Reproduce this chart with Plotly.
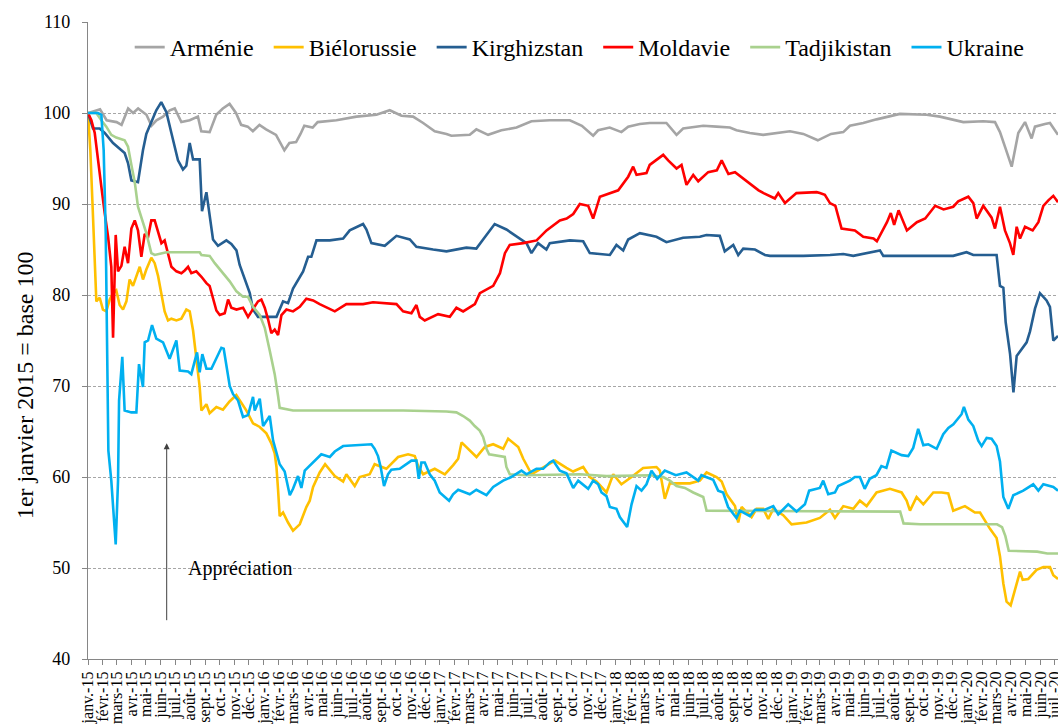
import pandas as pd
import plotly.graph_objects as go

# (months since 1 Jan 2015, index value, base 100 = 1 Jan 2015)
armenie = [(0,100),(0.82,100.4),(1.27,99.2),(1.95,99.0),(2.29,98.7),(2.74,100.5),(3.08,100),(3.42,100.5),(3.99,99.8),(4.33,98.6),(4.67,99.2),(5.12,99.6),(5.58,100.3),(5.92,100.5),(6.37,99),(6.94,99.2),(7.5,99.6),(7.73,98.0),(8.3,97.9),(8.75,99.8),(9.2,100.5),(9.66,101),(10.1,100),(10.45,98.7),(10.9,98.5),(11.25,98),(11.7,98.7),(12.15,98.2),(12.83,97.6),(13.4,95.9),(13.74,96.7),(14.2,96.8),(14.5,97.7),(14.76,98.6),(15.33,98.4),(15.67,99),(16.95,99.2),(18.32,99.6),(19.68,99.8),(20.59,100.3),(21.39,99.7),(22.18,99.6),(22.87,98.9),(23.66,98.0),(24.46,97.7),(24.8,97.5),(26.05,97.6),(26.5,98.2),(27.3,97.6),(28.21,98.1),(29.24,98.4),(30.26,99.1),(31.51,99.2),(32.88,99.2),(33.7,98.6),(34.47,97.5),(34.81,98.1),(35.6,98.4),(36.4,97.9),(36.86,98.5),(37.65,98.8),(38.33,98.9),(39.47,98.9),(40.16,97.6),(40.61,98.3),(41.98,98.6),(42.89,98.5),(43.8,98.4),(44.25,98.1),(45.16,97.8),(46.07,97.6),(46.98,97.8),(47.9,98.0),(48.81,97.7),(49.8,97.0),(50.7,97.7),(51.54,97.9),(51.99,98.6),(52.9,98.9),(53.81,99.3),(55.4,99.9),(57.22,99.8),(58.13,99.6),(59.73,99.0),(61.09,99.1),(61.89,99.0),(62.23,97.9),(62.57,96.3),(63.03,94.1),(63.48,97.8),(63.94,99.0),(64.39,97.2),(64.62,98.5),(65.3,98.8),(65.64,98.9),(66.19,97.6)]

bielorussie = [(0,100),(0.16,95.9),(0.3,90.3),(0.46,83.0),(0.57,79.3),(0.8,79.7),(1.02,78.4),(1.25,78.2),(1.48,79.5),(1.71,80.2),(1.93,80.5),(2.16,78.9),(2.39,78.4),(2.62,79.3),(2.84,81.7),(3.07,81.0),(3.3,82.1),(3.53,83.1),(3.75,81.7),(3.98,82.8),(4.32,84.1),(4.55,83.5),(4.78,82.1),(5.01,80.2),(5.23,78.2),(5.46,77.2),(5.69,77.4),(6.03,77.2),(6.37,77.4),(6.71,78.4),(6.94,78.2),(7.17,76.1),(7.39,73.2),(7.62,69.9),(7.74,67.3),(8.08,68.0),(8.3,67.0),(8.76,67.7),(9.21,67.4),(9.66,68.3),(10.12,69.0),(10.35,68.4),(10.81,67.3),(11.26,65.9),(11.72,65.5),(12.17,64.8),(12.51,63.7),(12.74,62.6),(12.86,61.1),(12.97,58.6),(13.08,55.7),(13.31,56.1),(13.65,55.0),(13.99,54.1),(14.45,54.8),(14.9,56.7),(15.13,57.4),(15.36,58.9),(15.81,60.5),(16.18,61.4),(16.84,60.1),(17.41,59.5),(17.63,60.3),(18.2,59.0),(18.54,60.0),(19.22,60.3),(19.56,61.4),(20.36,60.9),(21.16,62.2),(21.84,62.5),(22.3,62.3),(22.53,61.2),(22.87,60.3),(23.66,60.9),(24.35,60.3),(24.92,61.3),(25.26,62.0),(25.49,63.8),(26.17,62.7),(26.51,62.2),(27.08,63.3),(27.65,63.6),(28.33,63.1),(28.67,64.2),(29.36,63.3),(29.7,62.0),(30.27,60.3),(31.06,61.0),(31.86,61.8),(32.65,61.0),(33.1,60.6),(33.79,61.1),(34.24,60.0),(34.7,59.5),(35.38,58.3),(35.84,60.3),(36.4,59.2),(37.09,60.0),(37.88,61.0),(38.79,61.1),(39.02,60.7),(39.36,57.6),(39.7,59.3),(40.39,59.3),(41.07,59.3),(41.75,59.6),(42.21,60.5),(42.89,60.0),(43.24,59.5),(43.58,58.1),(44.15,56.8),(44.37,55.0),(44.6,56.7),(45.28,55.6),(45.62,56.5),(46.08,56.5),(46.42,55.4),(46.76,56.5),(47.44,55.8),(48.01,54.8),(49.03,55.0),(49.94,55.5),(50.63,56.4),(50.97,55.5),(51.54,56.8),(52.22,56.5),(52.67,57.4),(53.13,56.8),(53.81,58.3),(54.72,58.7),(55.52,58.3),(55.86,57.4),(56.09,56.3),(56.54,57.8),(57.0,57.0),(57.68,58.3),(58.25,58.3),(58.7,58.2),(59.04,56.3),(59.84,56.8),(60.52,56.1),(60.87,56.1),(61.21,55.2),(61.55,54.3),(62.0,53.3),(62.23,51.3),(62.46,48.3),(62.68,46.3),(62.96,45.9),(63.37,48.3),(63.6,49.6),(63.78,48.7),(64.16,48.8),(64.73,49.8),(65.19,50.1),(65.64,50.1),(65.87,49.2),(66.19,48.8)]

kirghizstan = [(0,100),(0.34,98.3),(0.8,98.3),(1.14,97.8),(1.71,96.7),(2.5,95.6),(2.73,94.5),(2.96,92.6),(3.41,92.4),(3.75,95.9),(3.98,97.7),(4.32,99.1),(4.66,100.3),(5.0,101.2),(5.35,100.1),(5.69,97.8),(6.14,94.8),(6.48,93.8),(6.71,94.2),(6.94,96.7),(7.17,94.9),(7.62,94.9),(7.78,89.2),(8.08,91.3),(8.3,89.0),(8.53,86.1),(8.87,85.4),(9.44,86.0),(9.78,85.6),(10.13,84.9),(10.35,83.3),(10.69,81.8),(11.04,80.2),(11.26,78.4),(11.6,77.6),(12.86,77.6),(13.31,79.3),(13.65,79.1),(13.99,80.7),(14.68,82.6),(15.02,84.2),(15.24,84.2),(15.59,86.0),(16.5,86.0),(17.41,86.2),(17.86,87.1),(18.77,87.8),(19.0,87.2),(19.34,85.7),(20.25,85.4),(21.05,86.5),(21.96,86.1),(22.41,85.3),(23.55,85.0),(24.46,84.8),(25.82,85.2),(26.5,85.1),(26.96,86.1),(27.75,87.8),(28.55,87.2),(29.24,86.4),(29.92,85.7),(30.26,84.6),(30.71,85.7),(31.28,85.0),(31.51,85.7),(32.88,86.0),(33.79,85.9),(34.24,84.6),(35.61,84.4),(36.06,85.5),(36.52,84.9),(36.86,86.1),(37.66,86.8),(38.79,86.4),(39.47,85.8),(40.61,86.3),(41.75,86.4),(42.2,86.6),(43.11,86.5),(43.45,84.8),(44.03,85.5),(44.37,84.4),(44.71,85.1),(45.51,85.0),(46.19,84.4),(46.54,84.3),(48.81,84.3),(50.63,84.4),(51.54,84.5),(52.22,84.3),(54.04,84.9),(54.27,84.3),(56.77,84.3),(59.04,84.3),(59.95,84.7),(60.41,84.4),(62.0,84.4),(62.23,81.0),(62.46,80.8),(62.62,77.0),(62.92,73.5),(63.15,69.3),(63.37,73.3),(63.6,73.8),(64.05,74.8),(64.28,76.0),(64.62,78.5),(64.96,80.2),(65.41,79.4),(65.64,78.7),(65.87,75.0),(66.19,75.5)]

moldavie = [(0,100),(0.23,99.2),(0.46,97.8),(0.68,95.2),(0.91,91.9),(1.14,89.0),(1.37,86.4),(1.59,83.1),(1.71,75.3),(1.89,86.6),(2.05,82.6),(2.28,83.2),(2.5,85.3),(2.73,83.5),(2.96,87.3),(3.19,88.2),(3.41,87.1),(3.64,84.2),(3.87,86.7),(4.1,86.4),(4.32,88.2),(4.55,88.2),(4.78,86.8),(5.01,85.7),(5.23,86.0),(5.46,84.6),(5.69,83.1),(6.03,82.6),(6.37,82.4),(6.6,82.7),(6.83,83.1),(7.05,82.4),(7.39,82.6),(7.74,82.0),(8.08,81.3),(8.3,81.0),(8.53,79.5),(8.76,78.3),(8.99,77.8),(9.33,78.0),(9.56,79.5),(9.78,78.6),(10.13,78.4),(10.58,78.6),(10.92,77.6),(11.26,78.4),(11.6,79.3),(11.83,79.5),(12.06,78.6),(12.29,77.3),(12.51,75.8),(12.74,76.2),(12.97,75.6),(13.2,77.8),(13.54,78.4),(13.99,78.2),(14.45,78.7),(14.9,79.6),(15.36,79.4),(15.81,79.0),(16.84,78.2),(17.63,79.0),(18.77,79.0),(19.45,79.2),(21.05,79.0),(21.5,78.2),(22.07,78.0),(22.41,78.9),(22.64,77.6),(22.98,77.2),(23.89,77.9),(24.69,77.6),(25.14,78.6),(25.6,78.2),(26.4,79.0),(26.74,80.2),(27.65,81.0),(28.11,82.4),(28.45,84.6),(28.78,85.5),(29.7,85.7),(30.61,86.0),(31.29,87.1),(32.2,88.2),(32.66,88.4),(33.11,88.9),(33.56,90.0),(34.13,89.8),(34.47,88.4),(34.93,90.8),(35.61,91.2),(36.18,91.5),(36.86,93.0),(37.2,94.1),(37.43,93.2),(38.11,93.4),(38.33,94.3),(39.02,95.2),(39.25,95.4),(39.59,94.8),(40.16,93.9),(40.5,94.3),(40.84,92.1),(41.3,93.2),(41.64,92.5),(42.32,93.5),(42.91,93.7),(43.24,94.8),(43.7,93.3),(44.15,93.5),(44.95,92.5),(45.76,91.5),(46.1,91.2),(46.87,90.6),(47.1,91.2),(47.56,90.1),(48.34,91.2),(49.14,91.3),(49.72,91.3),(49.94,91.2),(50.28,91.0),(50.63,90.1),(51.0,89.8),(51.42,87.3),(52.33,87.1),(52.9,86.4),(53.6,86.2),(53.83,85.9),(54.52,88.0),(54.78,89.0),(55.01,87.7),(55.31,89.3),(55.88,87.1),(56.56,88.0),(57.13,88.4),(57.81,89.8),(58.38,89.4),(59.04,89.7),(59.38,90.3),(60.07,90.8),(60.41,90.1),(60.64,88.4),(61.09,89.8),(61.66,88.5),(61.89,87.3),(62.23,89.7),(62.57,87.1),(62.91,85.7),(63.14,84.4),(63.37,87.5),(63.6,86.2),(63.94,87.5),(64.46,87.1),(64.85,88.0),(65.19,89.8),(65.53,90.4),(65.87,90.9),(66.19,90.2)]

tadjikistan = [(0,100),(0.57,100),(0.91,99.2),(1.25,98.5),(1.59,97.6),(1.93,97.3),(2.5,97.0),(2.73,96.3),(2.96,94.3),(3.19,92.4),(3.41,89.7),(3.64,88.6),(3.98,86.8),(4.32,84.6),(4.55,84.4),(5.35,84.7),(7.62,84.7),(7.74,84.4),(8.3,84.3),(8.65,83.5),(9.1,82.6),(9.67,81.5),(10.13,80.4),(10.58,79.8),(10.92,79.8),(11.26,78.7),(11.72,77.8),(12.06,76.4),(12.4,73.9),(12.74,71.3),(12.97,68.9),(13.08,67.6),(13.99,67.3),(21.5,67.3),(24.46,67.2),(25.14,67.1),(25.6,66.7),(26.05,66.2),(26.39,65.6),(26.73,65.1),(26.96,64.4),(27.19,63.1),(27.37,62.5),(28.44,62.2),(28.55,61.1),(28.78,60.3),(29.92,60.2),(33.56,60.3),(35.38,60.1),(38.34,60.2),(39.25,60.0),(39.7,59.6),(40.16,59.0),(40.73,58.8),(41.3,58.3),(41.98,57.8),(42.21,56.3),(50.63,56.2),(55.42,56.2),(55.65,54.9),(56.79,54.8),(62.03,54.8),(62.37,54.5),(62.6,53.5),(62.83,51.9),(64.77,51.8),(65.46,51.6),(66.19,51.6)]

ukraine = [(0,100),(0.68,100),(0.91,99.8),(1.07,95.9),(1.21,86.8),(1.3,76.1),(1.39,62.9),(1.59,59.6),(1.89,52.6),(2.05,59.6),(2.12,68.4),(2.34,73.2),(2.5,67.3),(2.96,67.1),(3.3,67.1),(3.48,72.4),(3.75,69.9),(3.87,74.8),(4.1,75.0),(4.37,76.7),(4.66,75.2),(5.12,74.8),(5.57,73.0),(6.03,75.0),(6.26,71.7),(6.83,71.6),(7.05,71.3),(7.44,73.7),(7.62,71.5),(7.8,73.5),(8.08,71.9),(8.42,71.9),(9.1,74.2),(9.26,74.1),(9.67,70.0),(9.9,69.1),(10.24,68.4),(10.58,66.6),(10.92,66.8),(11.26,68.8),(11.38,67.3),(11.72,68.6),(11.95,65.6),(12.4,66.7),(12.63,64.0),(13.08,61.4),(13.42,60.6),(13.77,58.0),(13.99,58.7),(14.33,60.1),(14.56,58.8),(14.79,60.7),(15.36,61.6),(15.92,62.5),(16.5,62.2),(16.84,62.8),(17.41,63.4),(19.34,63.6),(19.56,63.1),(19.79,62.3),(19.97,61.1),(20.2,59.0),(20.47,60.3),(20.7,60.8),(21.27,60.9),(21.73,61.4),(22.07,61.8),(22.41,61.8),(22.57,59.8),(22.75,61.6),(22.98,61.6),(23.32,60.3),(23.66,59.6),(24.0,58.3),(24.64,57.4),(24.91,58.1),(25.26,58.6),(26.05,58.1),(26.5,58.6),(27.19,58.0),(27.65,58.9),(28.33,59.6),(28.88,60.0),(29.58,60.7),(29.92,60.3),(30.6,60.9),(31.06,60.9),(31.51,61.6),(31.74,61.8),(32.2,60.7),(32.65,60.4),(33.11,58.8),(33.45,59.6),(34.13,58.7),(34.47,59.6),(34.81,59.2),(35.04,58.3),(35.38,57.9),(35.61,56.7),(36.06,56.5),(36.29,55.6),(36.79,54.5),(37.09,57.0),(37.43,59.0),(37.77,58.5),(38.11,59.2),(38.45,60.7),(38.84,59.8),(39.36,60.7),(40.11,60.2),(40.84,60.5),(41.64,59.6),(41.86,60.2),(42.66,59.7),(43.0,58.5),(43.34,58.3),(43.68,56.7),(44.25,55.5),(44.48,56.3),(45.16,55.7),(45.51,56.4),(46.19,56.4),(46.76,56.8),(47.1,55.9),(47.78,57.0),(48.35,56.2),(48.92,57.0),(49.21,58.5),(49.94,58.8),(50.17,59.6),(50.51,58.1),(50.97,58.3),(51.19,59.0),(51.99,59.6),(52.33,60.0),(52.67,60.0),(53.0,58.7),(53.34,59.8),(53.8,60.2),(54.14,61.2),(54.48,61.0),(54.82,62.9),(55.52,62.4),(55.97,62.3),(56.31,63.2),(56.65,65.3),(57.0,63.5),(57.34,63.6),(57.91,63.1),(58.36,64.7),(58.71,65.4),(59.05,65.8),(59.61,66.9),(59.77,67.7),(60.07,66.3),(60.41,65.6),(60.75,64.0),(60.98,63.4),(61.32,64.3),(61.66,64.2),(62.0,63.4),(62.23,61.7),(62.34,60.0),(62.46,57.8),(62.8,56.5),(63.14,58.0),(63.82,58.5),(64.5,59.2),(64.85,58.5),(65.19,59.2),(65.87,58.9),(66.19,58.5)]

series_names = ["Arménie", "Biélorussie", "Kirghizstan", "Moldavie", "Tadjikistan", "Ukraine"]
series_data = [armenie, bielorussie, kirghizstan, moldavie, tadjikistan, ukraine]
series_colors = ["#A5A5A5", "#FFC000", "#255E91", "#FF0000", "#A9D18E", "#00B0F0"]

mois = ["janv.", "févr.", "mars", "avr.", "mai", "juin", "juil.", "août", "sept.", "oct.", "nov.", "déc."]
y_ticks = [40, 50, 60, 70, 80, 90, 100, 110]

BASE = pd.Timestamp("2015-01-01")
DAYS_PER_MONTH = 365.25 / 12


def to_date(m):
    return BASE + pd.Timedelta(days=m * DAYS_PER_MONTH)


FONT = "Liberation Serif"
PAD = "\u00a0\u2006"  # small trailing gap between legend entries
fig = go.Figure()
for name, data, col in zip(series_names, series_data, series_colors):
    fig.add_trace(go.Scatter(
        x=[to_date(m) for m, _ in data], y=[v for _, v in data],
        mode="lines", name=name + PAD, line=dict(color=col, width=2.6)))

tick_dates = pd.date_range("2015-01-01", "2020-07-01", freq="MS")
tick_text = [f"{mois[d.month - 1]}-{d.year % 100:02d}" for d in tick_dates]

fig.update_layout(
    template="none",
    width=1058, height=727,
    margin=dict(l=88, r=0, t=22, b=68),
    paper_bgcolor="white", plot_bgcolor="white",
    font=dict(family=FONT, color="#000000"),
    showlegend=True,
    legend=dict(orientation="h", x=0.043, y=0.96, xanchor="left", yanchor="middle",
                font=dict(size=24, family=FONT), itemwidth=30,
                bgcolor="rgba(0,0,0,0)"),
    xaxis=dict(type="date", range=[to_date(0), to_date(66.19)],
               tickmode="array", tickvals=tick_dates, ticktext=tick_text,
               tickangle=-90, tickfont=dict(size=16, family=FONT),
               ticklabeloverflow="allow",
               ticks="outside", ticklen=5, tickcolor="#868686",
               showline=True, linecolor="#868686", linewidth=1.3,
               showgrid=False, zeroline=False, automargin=False),
    yaxis=dict(range=[40, 110], tickmode="array", tickvals=y_ticks,
               tickfont=dict(size=18, family=FONT),
               ticks="outside", ticklen=5, tickcolor="#868686",
               ticklabelstandoff=8,
               showline=True, linecolor="#868686", linewidth=1.3,
               showgrid=True, gridcolor="#A6A6A6", griddash="3px,2px", gridwidth=1,
               zeroline=False, automargin=False),
)

fig.add_annotation(x=-0.065, y=0.43, xref="paper", yref="paper",
                   text="1er janvier 2015 = base 100", textangle=-90,
                   showarrow=False, xanchor="center", yanchor="middle",
                   font=dict(size=24, family=FONT, color="#000000"))
fig.add_annotation(x=to_date(5.37), y=63.7, ax=to_date(5.37), ay=44.1,
                   xref="x", yref="y", axref="x", ayref="y", text="",
                   showarrow=True, arrowhead=2, arrowsize=1.2, arrowwidth=1,
                   arrowcolor="#404040")
fig.add_annotation(x=to_date(10.4), y=50.0, xref="x", yref="y",
                   text="Appréciation", showarrow=False,
                   font=dict(size=20, family=FONT, color="#000000"))

# remove the default 8px page margin so the 1058x727 figure fills the window exactly
fig.write_html("out.html",
               config={"displayModeBar": False},
               post_script="document.body.style.margin='0px';document.body.style.overflow='hidden';")
